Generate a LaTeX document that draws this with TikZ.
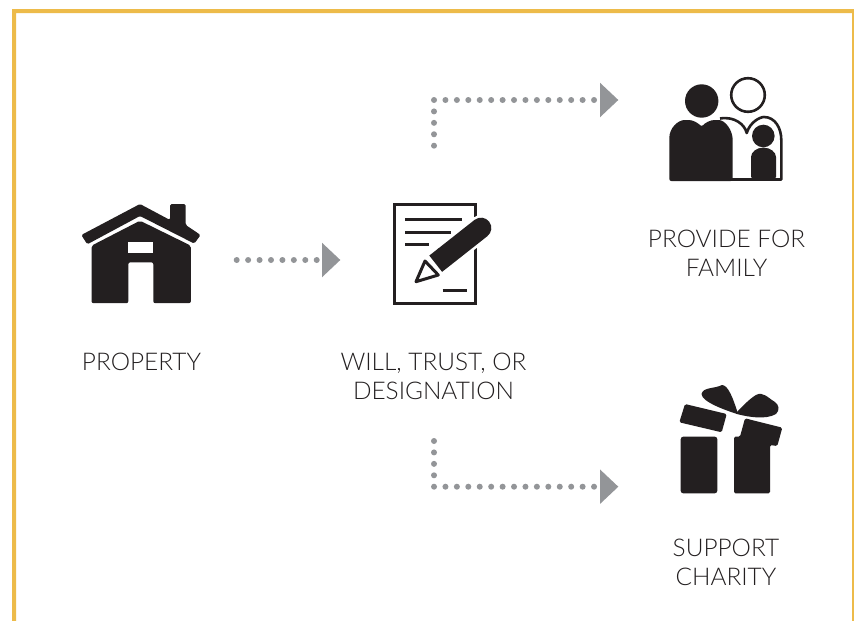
\documentclass[tikz,border=0pt]{standalone}
\usepackage{fontspec}
\setmainfont{Lato Light}
\usetikzlibrary{arrows.meta}
\definecolor{gold}{HTML}{EDBB4A}
\definecolor{ink}{HTML}{231F20}
\definecolor{dotgrey}{HTML}{939598}
\tikzset{
  label text/.style={text=ink,font=\fontsize{24.4}{29}\selectfont,align=center,inner sep=0pt},
  dotline/.style={draw=dotgrey,line width=6pt,line cap=round,dash pattern=on 0pt off 11.43pt,
    -{Triangle[length=18.3pt,width=34.5pt,fill=dotgrey,line width=0pt]}},
  icon/.style={fill=ink,draw=none},
  frame/.style={draw=none,fill=gold}
}
\begin{document}
\begin{tikzpicture}[x=1pt,y=-1pt]
\useasboundingbox (0,0) rectangle (854,621);
\fill[white] (0,0) rectangle (854,621);
% frame
\fill[frame] (12,621) -- (12,9) -- (854,9) -- (854,621) -- (852,621) -- (852,13) -- (16,13) -- (16,621) -- cycle;
% labels
\node[label text] (property) at (141.5,362) {PROPERTY};
\node[label text] (will) at (433.5,376.5) {WILL, TRUST, OR\\DESIGNATION};
\node[label text] (family) at (726.5,253.5) {PROVIDE FOR\\FAMILY};
\node[label text] (charity) at (726,562.5) {SUPPORT\\CHARITY};
% connector anchors
\coordinate (a1) at (236.7,260);
\coordinate (a2) at (340.3,260);
\coordinate (t0) at (434,145.7);
\coordinate (t1) at (434,100);
\coordinate (t2) at (618.3,100);
\coordinate (b0) at (434,441);
\coordinate (b1) at (434,486.7);
\coordinate (b2) at (618.3,486.7);
\draw[dotline] (a1) -- (a2);
\draw[dotline] (t0) -- (t1) -- (t2);
\draw[dotline] (b0) -- (b1) -- (b2);
% house
\fill[icon,rounded corners=1.5pt] (140,204) -- (170,220) -- (170,204) -- (185.7,204) -- (185.7,225) -- (200.6,235) -- (194.3,243.6) -- (140,216) -- (87.3,244.3) -- (81.3,235) -- cycle;
\fill[icon,rounded corners=2pt] (140,220.7) -- (190.9,245.7) -- (190.9,303.2) -- (153.3,303.2) -- (153.3,262.3) -- (128.3,262.3) -- (128.3,303.2) -- (91.5,303.2) -- (91.5,245.7) -- cycle;
\fill[white] (128.3,242.3) rectangle (153.3,252.7);
% document
\draw[ink,line width=3pt] (394.2,204.2) rectangle (475.2,303);
\draw[ink,line width=3pt] (405,219.3) -- (462.3,219.3) (405,232) -- (451,232) (405,244) -- (429,244) (442.7,290.7) -- (466.7,290.7);
\draw[white,line width=26pt,line cap=round] (435.7,263.7) -- (481,228);
\draw[ink,line width=20.7pt,line cap=round] (445,256.4) -- (481,228);
\draw[ink,line width=20.7pt] (435.7,263.7) -- (445,256.4);
\draw[ink,line width=3pt,line join=round,fill=white] (425,261) -- (438.3,275) -- (416,281.7) -- cycle;
% family
\fill[icon] (701.7,101) circle[radius=16.7];
\draw[ink,line width=2.6pt] (748,95) circle[radius=16.8];
\draw[ink,line width=2.6pt,line join=round] (720,118.5) .. controls (735,116) and (745,125) .. (746.7,133) .. controls (750,122) and (760,117) .. (764,117) .. controls (775,117) and (781.3,128) .. (781.3,140) -- (781.3,179.5) -- (730,179.5);
\fill[icon,rounded corners=2pt] (669.3,181) -- (669.3,140) .. controls (669.3,128) and (678,120) .. (686.7,120) .. controls (693,120) and (698,123) .. (701.7,126.7) .. controls (705,123) and (710,120) .. (716.7,120) .. controls (725,120) and (732.7,130) .. (732.7,142) -- (732.7,181) -- cycle;
\fill[icon] (763.3,136) circle[radius=11.3];
\fill[icon,rounded corners=1pt] (751,178) -- (751,158) .. controls (751,152) and (757,147.7) .. (763.3,147.7) .. controls (770,147.7) and (776,152) .. (776,158) -- (776,178) -- cycle;
% gift
\fill[icon,rounded corners=2.5pt] (680.7,436.7) -- (717.3,436.7) -- (717.3,493.3) -- (680.7,493.3) -- cycle;
\fill[icon,rounded corners=1.5pt] (734,436.7) -- (740,436.7) -- (745,418.3) -- (782.3,427.7) -- (777.3,446) -- (770,445) -- (770,493.3) -- (734,493.3) -- cycle;
\fill[icon,rounded corners=1.5pt] (685,404) -- (726.7,414) -- (721.7,432.3) -- (679.3,422.3) -- cycle;
\fill[icon] (737.3,411.7) .. controls (733,398) and (728,385) .. (722,385) .. controls (714,389) and (703,387) .. (701.5,394) .. controls (702,402) and (725,410) .. (737,414) .. controls (748,417) and (766,420) .. (776,414) .. controls (780,410) and (779,405) .. (775,402) .. controls (768,398) and (763,391) .. (756,395) .. controls (749,399) and (741,408) .. (737.3,411.7) -- cycle;
\end{tikzpicture}
\end{document}
